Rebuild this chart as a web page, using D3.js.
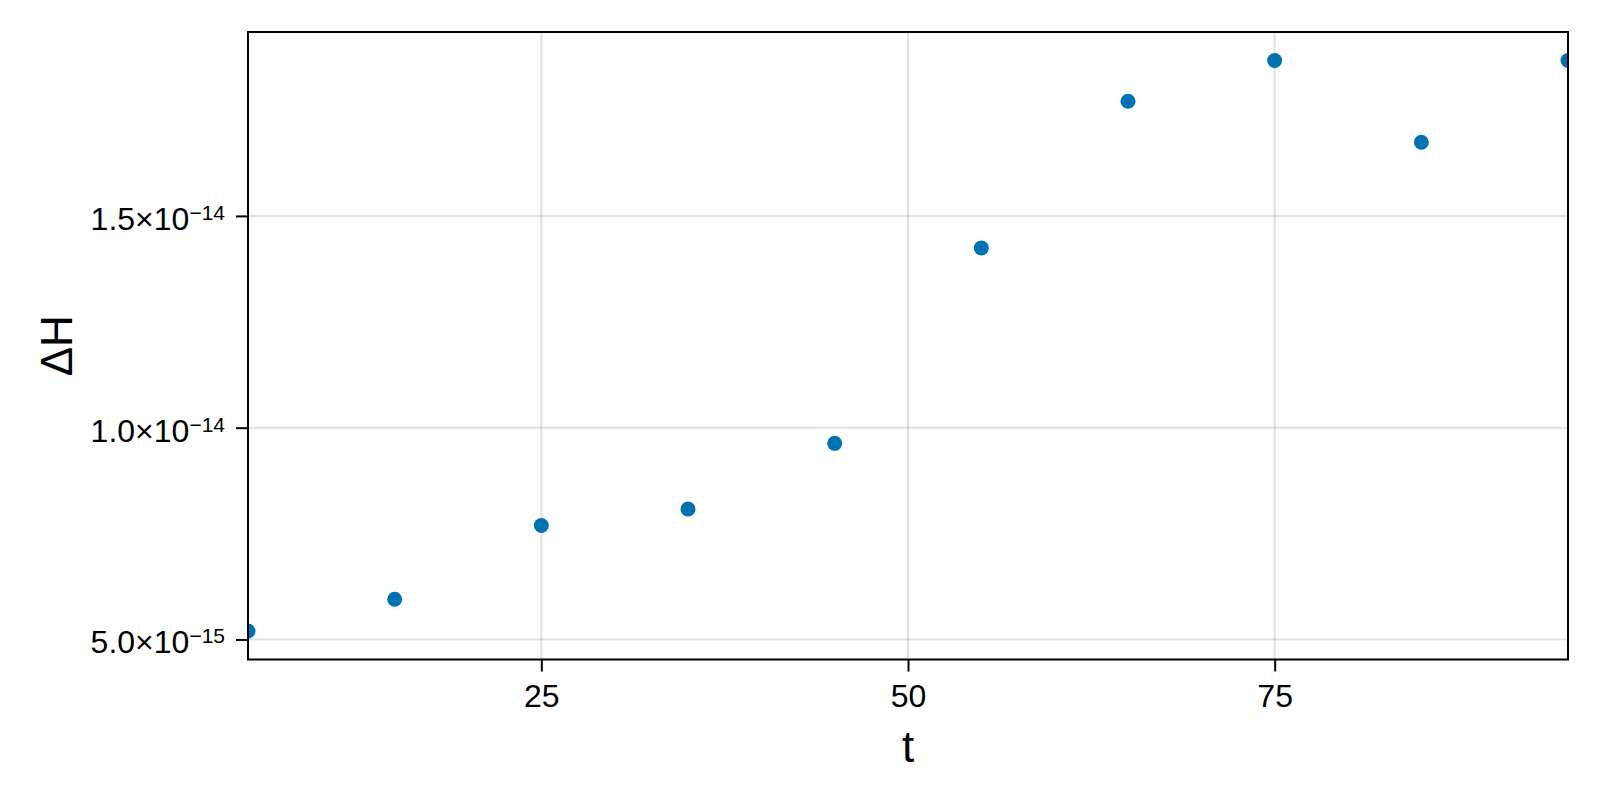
<!DOCTYPE html>
<html>
<head>
<meta charset="utf-8">
<script src="https://cdn.jsdelivr.net/npm/d3@7"></script>
<style>
  html, body { margin: 0; padding: 0; background: #fff; }
  svg { display: block; font-family: "Liberation Sans", Arial, Helvetica, sans-serif; }
</style>
</head>
<body>
<svg id="chart" width="1600" height="800"></svg>
<script>
// ---- data ----
const tValues = [5, 15, 25, 35, 45, 55, 65, 75, 85, 95];
const dHValues = [5.20e-15, 5.95e-15, 7.69e-15, 8.08e-15, 9.63e-15,
                  1.4245e-14, 1.7708e-14, 1.8669e-14, 1.674e-14, 1.8669e-14];
const xTicks = [25, 50, 75];
const yTicks = [5e-15, 1e-14, 1.5e-14];
const yTickMantissas = ["5.0", "1.0", "1.5"];
const yTickExponents = ["\u221215", "\u221214", "\u221214"];
const xLabel = "t";
const yLabel = "\u0394H";

// ---- layout ----
const W = 1600, H = 800;
const L = 248, R = 1568, T = 32, B = 659.5;
const svg = d3.select("#chart");

const x = d3.scaleLinear().domain([5, 95]).range([L, R]);
const [ymin, ymax] = d3.extent(dHValues);
const pad = (ymax - ymin) * 0.05;
const y = d3.scaleLinear().domain([ymin - pad, ymax + pad]).range([B, T]);

// grid
const grid = svg.append("g");
grid.selectAll("line.gx").data(xTicks).join("line")
  .attr("x1", d => x(d)).attr("x2", d => x(d))
  .attr("y1", T).attr("y2", B)
  .attr("stroke", "rgba(0,0,0,0.12)").attr("stroke-width", 2);
grid.selectAll("line.gy").data(yTicks).join("line")
  .attr("y1", d => y(d)).attr("y2", d => y(d))
  .attr("x1", L).attr("x2", R)
  .attr("stroke", "rgba(0,0,0,0.12)").attr("stroke-width", 2);

// clip
svg.append("clipPath").attr("id", "clip").append("rect")
  .attr("x", L).attr("y", T).attr("width", R - L).attr("height", B - T);

// points
svg.append("g").attr("clip-path", "url(#clip)")
  .selectAll("circle").data(tValues).join("circle")
  .attr("cx", d => x(d))
  .attr("cy", (d, i) => y(dHValues[i]))
  .attr("r", 7.5)
  .attr("fill", "#0072B2");

// x axis
const gx = svg.append("g").attr("transform", `translate(0,${B})`)
  .call(d3.axisBottom(x).tickValues(xTicks).tickSize(12).tickPadding(13).tickFormat(d3.format("d")));
gx.select(".domain").remove();
gx.selectAll(".tick line").attr("stroke", "#000").attr("stroke-width", 2);
gx.selectAll(".tick text").attr("font-size", 32).attr("fill", "#000")
  .attr("font-family", "Liberation Sans, Arial, sans-serif");

// y axis
const gy = svg.append("g").attr("transform", `translate(${L},0)`)
  .call(d3.axisLeft(y).tickValues(yTicks).tickSize(12).tickPadding(11).tickFormat(() => ""));
gy.select(".domain").remove();
gy.selectAll(".tick line").attr("stroke", "#000").attr("stroke-width", 2);
gy.selectAll(".tick text").each(function(d, i) {
  const t = d3.select(this)
    .attr("font-size", 32).attr("fill", "#000")
    .attr("font-family", "Liberation Sans, Arial, sans-serif")
    .attr("dy", "0.42em");
  t.text(null);
  t.append("tspan").text(yTickMantissas[i] + "\u00d710");
  t.append("tspan").attr("font-size", 21).attr("dy", "-10").text(yTickExponents[i]);
});

// spines
svg.append("rect").attr("x", L).attr("y", T).attr("width", R - L).attr("height", B - T)
  .attr("fill", "none").attr("stroke", "#000").attr("stroke-width", 2);

// axis labels
svg.append("text").attr("x", (L + R) / 2).attr("y", 762)
  .attr("text-anchor", "middle").attr("font-size", 44).attr("fill", "#000")
  .text(xLabel);
svg.append("text").attr("transform", `translate(72,${(T + B) / 2}) rotate(-90)`)
  .attr("text-anchor", "middle").attr("font-size", 44).attr("fill", "#000")
  .text(yLabel);
</script>
</body>
</html>
